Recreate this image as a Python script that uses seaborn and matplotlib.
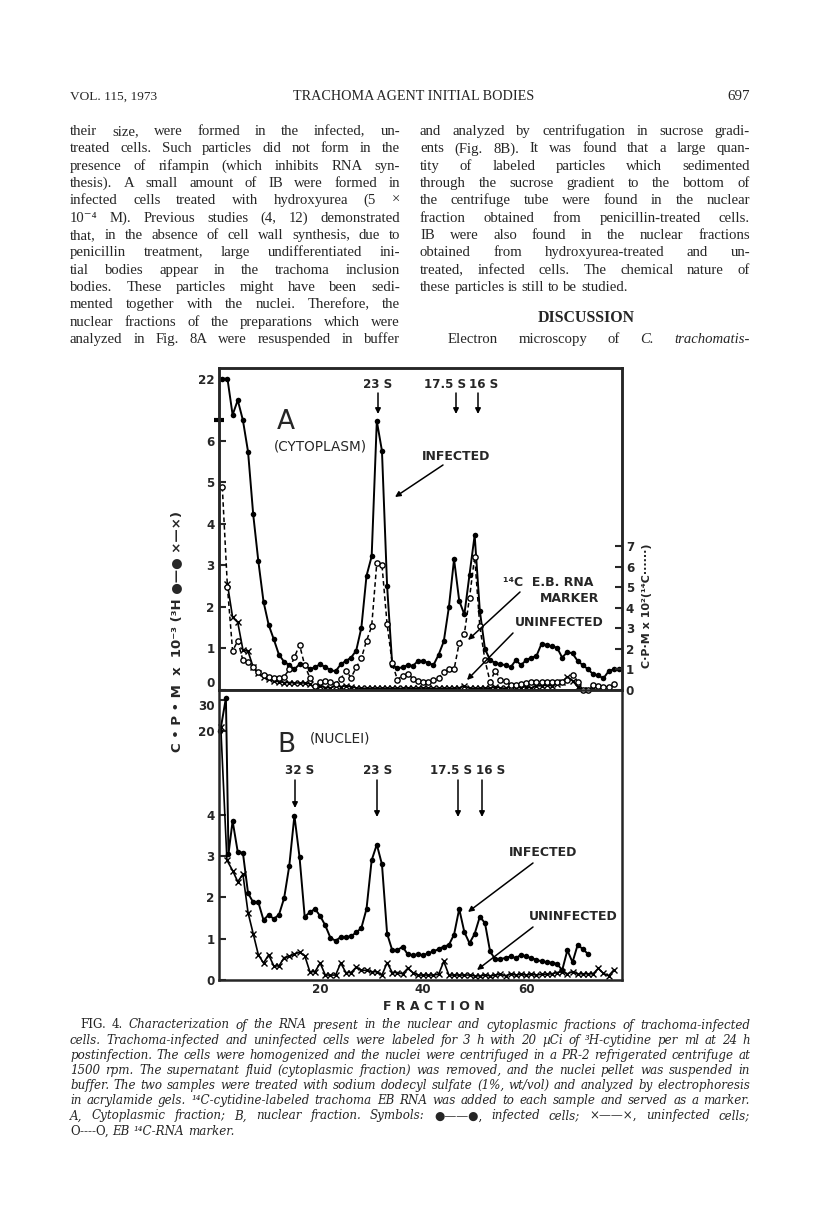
import numpy as np
import matplotlib
matplotlib.use("Agg")
import matplotlib.pyplot as plt
import seaborn as sns

# ---- data (C.P.M x 10^-3 for 3H, x 10^2 for 14C) ----
frac_a = list(range(1, 79))
infected_a = [22, 22, 8.5, 14, 6.5, 5.74, 4.23, 3.1, 2.13, 1.57,
              1.22, 0.85, 0.68, 0.6, 0.5, 0.62, 0.6, 0.5, 0.55, 0.62,
              0.55, 0.48, 0.45, 0.62, 0.7, 0.78, 0.95, 1.5, 2.75, 3.22,
              6.48, 5.76, 2.5, 0.6, 0.52, 0.55, 0.6, 0.58, 0.7, 0.7,
              0.65, 0.6, 0.85, 1.17, 2.0, 3.15, 2.15, 1.82, 2.78, 3.73,
              1.91, 0.99, 0.72, 0.65, 0.62, 0.6, 0.55, 0.72, 0.6, 0.72,
              0.78, 0.82, 1.12, 1.08, 1.05, 1.02, 0.78, 0.92, 0.88, 0.7,
              0.6, 0.5, 0.38, 0.35, 0.28, 0.45, 0.5, 0.5]

frac_a_un = list(range(2, 74))
uninfected_a = [2.55, 1.75, 1.63, 0.97, 0.93, 0.55, 0.4, 0.32, 0.27,
                0.22, 0.2, 0.18, 0.18, 0.17, 0.17, 0.17, 0.15, 0.04, 0.1,
                0.06, 0.05, 0.1, 0.08, 0.1, 0.08, 0.05, 0.04, 0.04, 0.04,
                0.04, 0.04, 0.04, 0.04, 0.04, 0.04, 0.05, 0.04, 0.04, 0.05,
                0.04, 0.04, 0.04, 0.04, 0.04, 0.04, 0.05, 0.1, 0.04, 0.04,
                0.04, 0.05, 0.04, 0.08, 0.05, 0.04, 0.1, 0.05, 0.06, 0.08,
                0.05, 0.1, 0.1, 0.12, 0.1, 0.15, 0.2, 0.32, 0.22, 0.08,
                0.0, 0.0, 0.02]

frac_a_mk = list(range(1, 78))
marker_a = [9.9, 5.0, 1.9, 2.4, 1.45, 1.35, 1.1, 0.9, 0.75, 0.65,
            0.6, 0.6, 0.65, 1.0, 1.6, 2.2, 1.2, 0.6, 0.2, 0.4,
            0.45, 0.4, 0.3, 0.55, 0.95, 0.6, 1.1, 1.55, 2.4, 3.1,
            6.2, 6.1, 3.2, 1.3, 0.5, 0.7, 0.8, 0.55, 0.45, 0.4,
            0.4, 0.5, 0.6, 0.9, 1.0, 1.0, 2.3, 2.75, 4.5, 6.5,
            3.1, 1.45, 0.4, 0.95, 0.5, 0.45, 0.25, 0.25, 0.3, 0.35,
            0.4, 0.4, 0.4, 0.4, 0.4, 0.4, 0.4, 0.5, 0.75, 0.4,
            0.0, 0.0, 0.25, 0.2, 0.15, 0.15, 0.3]

frac_b_inf = [0.6, 1.7, 2.2] + list(range(3, 73))
infected_b = [20, 30.5, 3.05,
              3.85, 3.1, 3.08, 2.1, 1.88, 1.88, 1.45, 1.58, 1.48, 1.58,
              1.98, 2.76, 3.98, 2.97, 1.53, 1.64, 1.72, 1.55, 1.32, 1.02,
              0.95, 1.04, 1.04, 1.06, 1.15, 1.26, 1.72, 2.9, 3.28, 2.8,
              1.12, 0.72, 0.72, 0.81, 0.62, 0.6, 0.62, 0.6, 0.65, 0.69,
              0.75, 0.81, 0.85, 1.1, 1.72, 1.16, 0.89, 1.12, 1.53, 1.38,
              0.69, 0.5, 0.5, 0.54, 0.57, 0.53, 0.61, 0.57, 0.53, 0.49,
              0.45, 0.43, 0.42, 0.39, 0.24, 0.72, 0.43, 0.85, 0.75, 0.63]

frac_b_un = [0.7, 1.9] + list(range(3, 78))
uninfected_b = [21.5, 2.9,
                2.65, 2.38, 2.56, 1.63, 1.12, 0.61, 0.41, 0.61, 0.34, 0.34,
                0.54, 0.57, 0.63, 0.67, 0.59, 0.2, 0.2, 0.41, 0.12, 0.12,
                0.12, 0.41, 0.18, 0.18, 0.31, 0.24, 0.23, 0.2, 0.2, 0.12,
                0.42, 0.18, 0.18, 0.15, 0.28, 0.18, 0.12, 0.12, 0.12, 0.12,
                0.14, 0.45, 0.12, 0.12, 0.12, 0.12, 0.12, 0.1, 0.1, 0.12,
                0.1, 0.12, 0.14, 0.1, 0.15, 0.12, 0.14, 0.12, 0.14, 0.12,
                0.14, 0.14, 0.15, 0.18, 0.2, 0.15, 0.2, 0.15, 0.15, 0.15,
                0.15, 0.28, 0.16, 0.1, 0.24]

yticks_a = [0, 1, 2, 3, 4, 5, 6, 22]
yticks_b = [0, 1, 2, 3, 4, 20, 30]
yticks_r = [0, 1, 2, 3, 4, 5, 6, 7]
xticks = [20, 40, 60]

# ---- page text ----
header = ["VOL. 115, 1973", "TRACHOMA AGENT INITIAL BODIES", "697"]
left_col = [
    "their size, were formed in the infected, un-",
    "treated cells. Such particles did not form in the",
    "presence of rifampin (which inhibits RNA syn-",
    "thesis). A small amount of IB were formed in",
    "infected cells treated with hydroxyurea (5 \u00d7",
    "10\u207b\u2074 M). Previous studies (4, 12) demonstrated",
    "that, in the absence of cell wall synthesis, due to",
    "penicillin treatment, large undifferentiated ini-",
    "tial bodies appear in the trachoma inclusion",
    "bodies. These particles might have been sedi-",
    "mented together with the nuclei. Therefore, the",
    "nuclear fractions of the preparations which were",
    "analyzed in Fig. 8A were resuspended in buffer",
]
right_col = [
    "and analyzed by centrifugation in sucrose gradi-",
    "ents (Fig. 8B). It was found that a large quan-",
    "tity of labeled particles which sedimented",
    "through the sucrose gradient to the bottom of",
    "the centrifuge tube were found in the nuclear",
    "fraction obtained from penicillin-treated cells.",
    "IB were also found in the nuclear fractions",
    "obtained from hydroxyurea-treated and un-",
    "treated, infected cells. The chemical nature of",
    "these particles is still to be studied.",
]
last_line = "Electron microscopy of {C.} {trachomatis-}"
caption = [
    "{FIG.} {4.} Characterization of the RNA present in the nuclear and cytoplasmic fractions of trachoma-infected",
    "cells. Trachoma-infected and uninfected cells were labeled for 3 h with 20 \u00b5Ci of \u00b3H-cytidine per ml at 24 h",
    "postinfection. The cells were homogenized and the nuclei were centrifuged in a PR-2 refrigerated centrifuge at",
    "1500 rpm. The supernatant fluid (cytoplasmic fraction) was removed, and the nuclei pellet was suspended in",
    "buffer. The two samples were treated with sodium dodecyl sulfate (1%, wt/vol) and analyzed by electrophoresis",
    "in acrylamide gels. \u00b9\u2074C-cytidine-labeled trachoma EB RNA was added to each sample and served as a marker.",
    "A, Cytoplasmic fraction; B, nuclear fraction. Symbols: {\u25cf\u2014\u2014\u25cf,} infected cells; {\u00d7\u2014\u2014\u00d7,} uninfected cells;",
    "{O----O,} EB \u00b9\u2074C-RNA marker.",
]

sns.set_style("ticks")
plt.rcParams["font.family"] = ["DejaVu Sans"]
plt.rcParams["axes.linewidth"] = 1.8

W, H = 816, 1213
fig = plt.figure(figsize=(W / 100, H / 100), dpi=100)
page = fig.add_axes([0, 0, 1, 1], zorder=5)
page.set_xlim(0, W)
page.set_ylim(H, 0)
page.axis("off")
renderer = fig.canvas.get_renderer()
TIMES = ["Liberation Serif", "DejaVu Serif"]
CENTURY = ["DejaVu Serif"]


def text_width(s, size, fam, style="normal"):
    t = page.text(0, 0, s, fontsize=size, style=style, family=fam)
    w = t.get_window_extent(renderer).width
    t.remove()
    return w


def split_words(line, base):
    out = []
    for w in line.split(" "):
        st = base
        if w.startswith("{") and w.endswith("}"):
            w = w[1:-1]
            st = "normal" if base == "italic" else "italic"
        out.append((w, st))
    return out


def natural(line, size, fam, base):
    words = split_words(line, base)
    sp = text_width("a a", size, fam) - text_width("aa", size, fam)
    return sum(text_width(w, size, fam, st) for w, st in words) + sp * (len(words) - 1)


def fit_size(lines, width, fam, base):
    return min(10 * width / natural(l, 10, fam, base) for l in lines) * 0.995


def draw_line(line, x0, x1, y, size, fam, base="normal", justify=True):
    words = split_words(line, base)
    ts = [page.text(0, y, w, fontsize=size, style=st, family=fam, va="baseline")
          for w, st in words]
    ws = [t.get_window_extent(renderer).width for t in ts]
    sp = text_width("a a", size, fam) - text_width("aa", size, fam)
    gap = (x1 - x0 - sum(ws)) / (len(ws) - 1) if justify and len(ws) > 1 else sp
    x = x0
    for t, w in zip(ts, ws):
        t.set_x(x)
        x += w + gap


# header
page.text(70, 100, header[0], fontsize=9.6, family=TIMES, va="baseline")
page.text(414, 100, header[1], fontsize=10.2, family=TIMES, va="baseline", ha="center")
page.text(750, 100, header[2], fontsize=10.8, family=TIMES, va="baseline", ha="right")

# body columns
body_size = min(fit_size(left_col + right_col[:9], 328, TIMES, "normal"), 10.6)
for i, line in enumerate(left_col):
    draw_line(line, 70, 400, 135 + 17.33 * i, body_size, TIMES)
for i, line in enumerate(right_col):
    draw_line(line, 420, 750, 135 + 17.33 * i, body_size, TIMES, justify=i < 9)
page.text(586, 321.7, "DISCUSSION", fontsize=body_size * 1.08, weight="bold",
          family=TIMES, ha="center", va="baseline")
draw_line(last_line, 448, 750, 135 + 17.33 * 12, body_size, TIMES)

# caption
cap_size = fit_size(caption[:7], 678, CENTURY, "italic")
for i, line in enumerate(caption):
    x0 = 80 if i == 0 else 70
    draw_line(line, x0, 750, 1028.5 + 15.15 * i, cap_size, CENTURY,
              base="italic", justify=i < 7)


# ---- broken y scales ----
def piecewise(src, dst):
    return (lambda v: np.interp(v, src, dst), lambda v: np.interp(v, dst, src))


scale_a = piecewise([-10, 0, 6.5, 22, 60], [-10, 0, 6.5, 7.5, 7.5 + 38 / 15.5])
scale_b = piecewise([-10, 0, 4.6, 20, 30, 60], [-10, 0, 4.6, 6.02, 6.79, 9.1])

left, width = 218.7 / W, 403 / W
axA = fig.add_axes([left, (H - 690) / H, width, 322 / H])
axB = fig.add_axes([left, (H - 980) / H, width, 290 / H])
axA.set_yscale("function", functions=scale_a)
axB.set_yscale("function", functions=scale_b)

line_kw = dict(color="black", sort=False, estimator=None, clip_on=False)
inf_kw = dict(lw=1.4, marker="o", markersize=4.0, markeredgewidth=0)
# seaborn paints marker edges white by default, which would erase "x" marks
un_kw = dict(lw=1.2, marker="x", markersize=4.0, markeredgewidth=1.0,
             markeredgecolor="black")

sns.lineplot(x=frac_a, y=infected_a, ax=axA, **line_kw, **inf_kw)
sns.lineplot(x=frac_a_un, y=uninfected_a, ax=axA, **line_kw, **un_kw)
axR = axA.twinx()
sns.lineplot(x=frac_a_mk, y=marker_a, ax=axR, lw=1.1, linestyle=(0, (3, 2)),
             marker="o", markersize=3.8, markerfacecolor="white",
             markeredgecolor="black", markeredgewidth=1.0, **line_kw)

sns.lineplot(x=frac_b_inf, y=infected_b, ax=axB, **line_kw, **inf_kw)
sns.lineplot(x=frac_b_un, y=uninfected_b, ax=axB, **line_kw, **un_kw)

tick_font = dict(fontsize=8.6, fontweight="bold")
for ax in (axA, axB, axR):
    ax.set_xlim(0.3, 78.55)
    ax.set_xlabel("")
    ax.set_ylabel("")
    ax.tick_params(axis="y", direction="in", length=5, width=1.5, pad=3)
    ax.yaxis.set_minor_locator(matplotlib.ticker.NullLocator())
    for s in ax.spines.values():
        s.set_linewidth(1.8)
axA.set_ylim(0, 26)
axB.set_ylim(0, 33)
axR.set_ylim(0, 15.7)
axA.set_yticks(yticks_a)
axA.set_yticklabels([str(t) for t in yticks_a], **tick_font)
axB.set_yticks(yticks_b)
axB.set_yticklabels([str(t) for t in yticks_b], **tick_font)
axR.set_yticks(yticks_r)
axR.set_yticklabels([str(t) for t in yticks_r], **tick_font)
axA.set_xticks([])
axB.set_xticks(xticks)
axB.set_xticklabels([str(t) for t in xticks], **tick_font)
axB.tick_params(axis="x", length=0, pad=2)
# keep the shared-edge labels "0" (A) and "30" (B) apart
axA.get_yticklabels()[0].set_va("bottom")
axB.get_yticklabels()[-1].set_va("top")

# axis break mark on panel A
axA.plot([-0.012, 0.012], [6.6, 6.6], transform=axA.get_yaxis_transform(),
         color="black", lw=3, clip_on=False, solid_capstyle="butt")

# ---- labels and arrows inside the chart (page pixel coordinates) ----
lab = dict(fontweight="bold", ha="center", va="center", family=["DejaVu Sans"])


def arrow(x0, y0, x1, y1):
    page.annotate("", xy=(x1, y1), xytext=(x0, y0),
                  arrowprops=dict(arrowstyle="-|>", color="black", lw=1.1,
                                  mutation_scale=8, shrinkA=0, shrinkB=0))


for txt, x, ax_x in [("23 S", 378, 378), ("17.5 S", 445.5, 456), ("16 S", 484, 478)]:
    page.text(x, 384, txt, fontsize=8.6, **lab)
    arrow(ax_x, 393, ax_x, 414)
for txt, x, ax_x, tip in [("32 S", 300, 295, 808), ("23 S", 378, 377, 817),
                          ("17.5 S", 451, 458, 817), ("16 S", 491, 482, 817)]:
    page.text(x, 770, txt, fontsize=8.6, **lab)
    arrow(ax_x, 780, ax_x, tip)

page.text(286, 422, "A", fontsize=19, ha="center", va="center")
page.text(320, 446, "(CYTOPLASM)", fontsize=9.8, ha="center", va="center")
page.text(286.5, 745, "B", fontsize=19, ha="center", va="center")
page.text(340, 738.5, "(NUCLEI)", fontsize=9.8, ha="center", va="center")

page.text(456, 457, "INFECTED", fontsize=9, **lab)
arrow(443, 465, 395, 497)
page.text(548, 582, "\u00b9\u2074C  E.B. RNA", fontsize=9, **lab)
page.text(570, 598, "MARKER", fontsize=9, **lab)
arrow(520, 592, 468, 640)
page.text(559.5, 622.5, "UNINFECTED", fontsize=9, **lab)
arrow(513, 633, 467, 680)

page.text(543, 853, "INFECTED", fontsize=9, **lab)
arrow(533, 863, 468, 912)
page.text(573, 916, "UNINFECTED", fontsize=9, **lab)
arrow(533, 927, 477, 970)

page.text(434, 1006, "F R A C T I O N", fontsize=9, **lab)
page.text(177, 631, "C \u2022 P \u2022 M  x  10\u207b\u00b3 (\u00b3H \u25cf\u2014\u25cf \u00d7\u2014\u00d7)",
          fontsize=9.5, rotation=90, **lab)
page.text(647.5, 606, "C\u00b7P\u00b7M x 10\u00b2(\u00b9\u2074C\u00b7\u00b7\u00b7\u00b7\u00b7\u00b7)",
          fontsize=8, rotation=90, **lab)

fig.savefig("out.png", dpi=100)
